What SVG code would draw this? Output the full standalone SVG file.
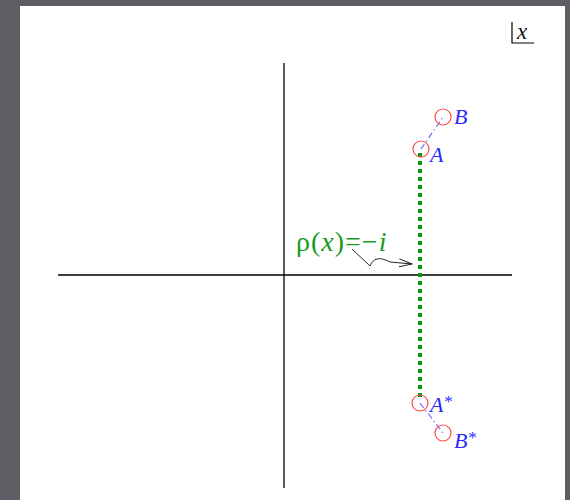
<svg xmlns="http://www.w3.org/2000/svg" width="570" height="500" viewBox="0 0 570 500">
<style>
.axis{stroke:#000;stroke-width:1.3;fill:none}
.pt{fill:none;stroke:#ff4d4d;stroke-width:1.2}
.lbl{font-family:"Liberation Serif",serif;font-style:italic;font-size:22px;fill:#2a2aff}
.sup{font-size:17px}
.link{stroke:#7070ff;stroke-width:1.2;stroke-dasharray:6 3 1.5 3;fill:none}
.rho{font-family:"Liberation Serif",serif;font-size:28px;fill:#1a9a1a;letter-spacing:1px}
</style>
<defs>
<marker id="ah" markerWidth="14" markerHeight="10" refX="13" refY="5" orient="auto" markerUnits="userSpaceOnUse">
<path d="M0,1 L13,5 L0,9" fill="none" stroke="#222" stroke-width="1"/>
</marker>
</defs>
<rect width="570" height="500" fill="#5f5d63"/>
<rect x="20" y="6" width="545" height="494" fill="#fff"/>
<g id="axes">
<line class="axis" x1="58" y1="275" x2="512" y2="275"/>
<line class="axis" x1="284" y1="63" x2="284" y2="488"/>
</g>
<g id="corner">
<path d="M512,22 V43 H534" fill="none" stroke="#000" stroke-width="1.2"/>
<text x="517" y="39" font-family="'Liberation Serif',serif" font-style="italic" font-size="23" fill="#111">x</text>
</g>
<g id="connectors">
<line x1="420" y1="153" x2="420" y2="400" stroke="#00a000" stroke-width="4" stroke-dasharray="4 4"/>
<line class="link" x1="421" y1="149" x2="443" y2="117"/>
<line class="link" x1="420" y1="403" x2="443" y2="433"/>
<path d="M352,249 L370,266 C374,256 382,258 390,262 L412,264" fill="none" stroke="#222" stroke-width="1" marker-end="url(#ah)"/>
</g>
<g id="B"><circle class="pt" cx="443" cy="117" r="8"/><text class="lbl" x="454" y="124">B</text></g>
<g id="A"><circle class="pt" cx="421" cy="149" r="8"/><text class="lbl" x="430" y="162">A</text></g>
<g id="Astar"><circle class="pt" cx="420" cy="403" r="8"/><text class="lbl" x="430" y="412">A<tspan class="sup" dy="-5">*</tspan></text></g>
<g id="Bstar"><circle class="pt" cx="443" cy="433" r="8"/><text class="lbl" x="454" y="448">B<tspan class="sup" dy="-5">*</tspan></text></g>
<g id="rho">
<text class="rho" x="296" y="251">ρ(<tspan font-style="italic">x</tspan>)=−<tspan font-style="italic">i</tspan></text>
</g>
</svg>
